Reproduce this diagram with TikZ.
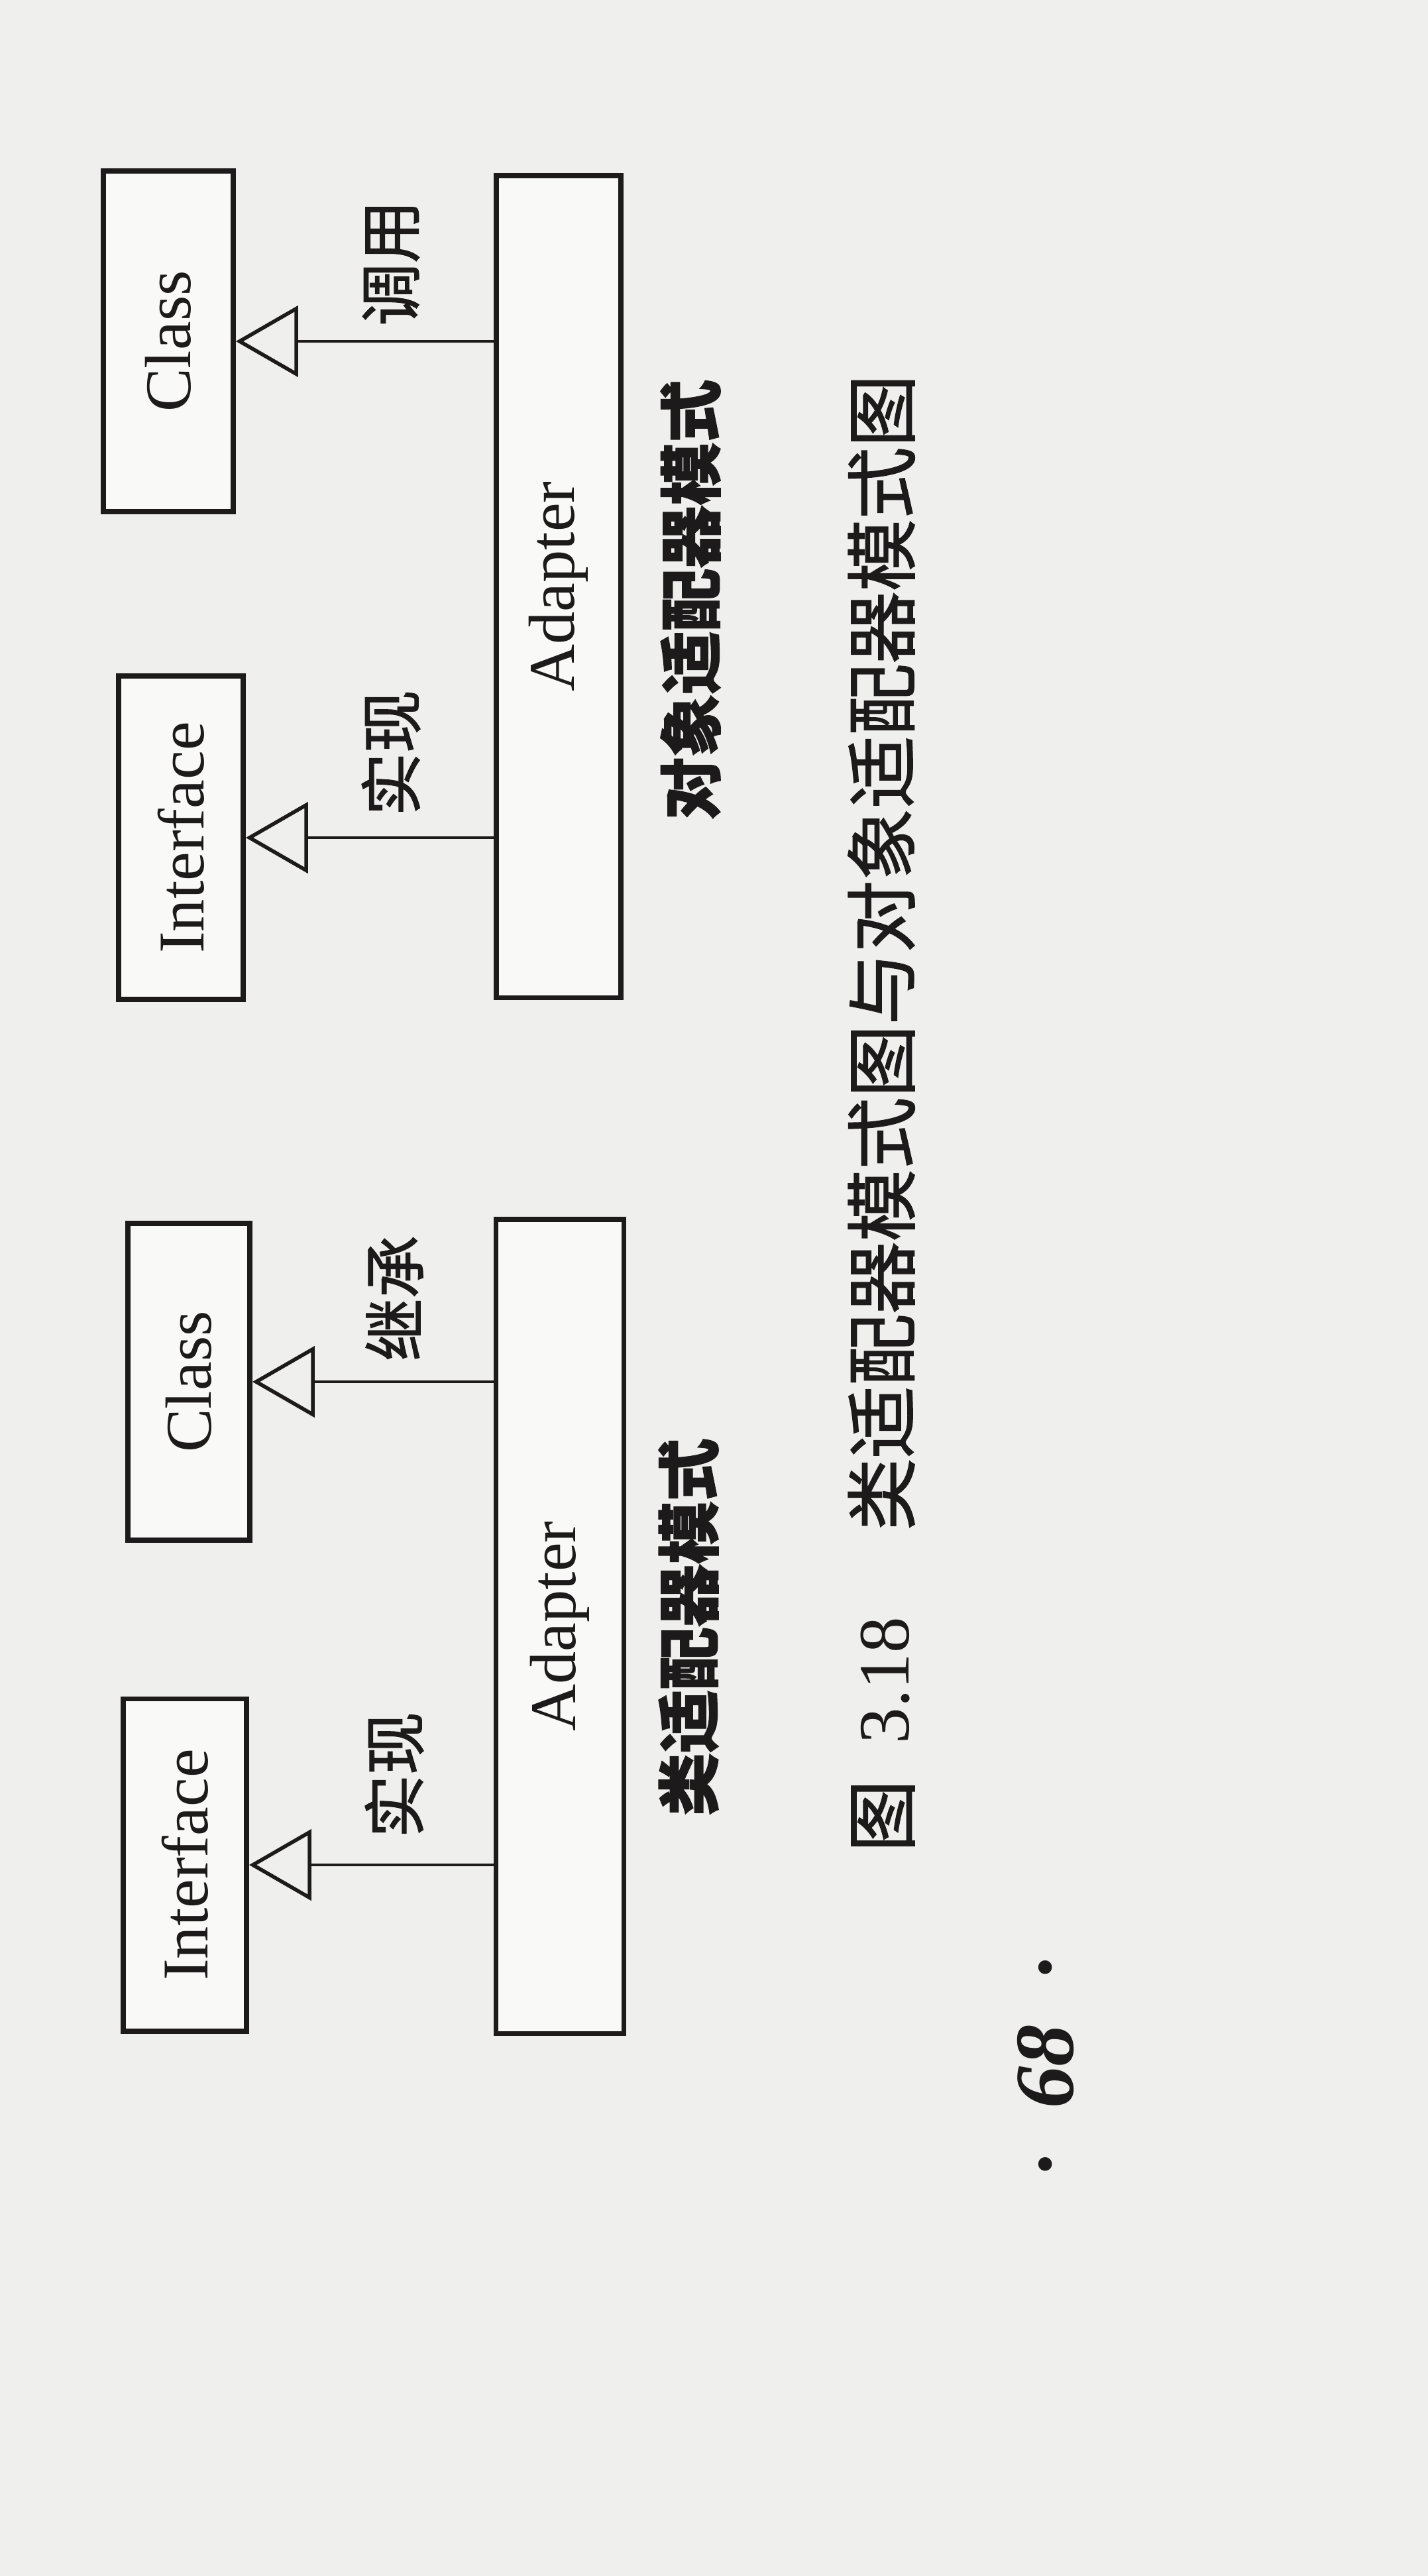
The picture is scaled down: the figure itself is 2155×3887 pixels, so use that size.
\documentclass[tikz,border=0pt]{standalone}
\usepackage{fontspec}
\setmainfont{Liberation Serif}
\newfontfamily\cjk[FakeBold=1.2]{Noto Sans CJK SC}
\usetikzlibrary{arrows.meta}
\definecolor{paper}{RGB}{239,239,237}
\definecolor{ink}{RGB}{28,26,26}

\begin{document}
\begin{tikzpicture}[x=0.01cm, y=-0.01cm,
  box/.style={draw=ink, line width=2.2pt, fill=paper!40!white, inner sep=0pt,
              text=ink, font=\fontsize{28}{30}\selectfont},
  gen/.style={draw=ink, line width=1.1pt,
              -{Triangle[open, length=0.94cm, width=1.07cm, line width=1.6pt]}},
  lbl/.style={text=ink, rotate=90, inner sep=0pt, font=\cjk\fontsize{27}{30}\selectfont},
  subcaption/.style={text=ink, rotate=90, inner sep=0pt, font=\cjk\bfseries\fontsize{27}{30}\selectfont},
  figcaption/.style={text=ink, rotate=90, inner sep=0pt, font=\fontsize{31}{34}\selectfont},
  folio/.style={text=ink, rotate=90, inner sep=0pt, font=\bfseries\itshape\fontsize{36}{40}\selectfont}
]
% page
\fill[paper] (0,0) rectangle (2155,3887);
\useasboundingbox (0,0) rectangle (2155,3887);

% ---- object adapter (upper) ----
\node[box, minimum width=1.96cm, minimum height=5.14cm] (cb) at (254,515)  {\rotatebox{90}{Class}};
\node[box, minimum width=1.88cm, minimum height=4.88cm] (ib) at (273,1264) {\rotatebox{90}{Interface}};
\node[box, minimum width=1.88cm, minimum height=12.40cm] (ab) at (843,885) {\rotatebox{90}{Adapter}};
\draw[gen] (ab.west |- ib.east) -- (ib.east);
\draw[gen] (ab.west |- cb.east) -- (cb.east);
\node[lbl] (lb1) at (590,1136) {实现};
\node[lbl] (lb2) at (590,397)  {调用};
\node[subcaption] (sb) at (1042,905) {对象适配器模式};

% ---- class adapter (lower) ----
\node[box, minimum width=1.84cm, minimum height=4.78cm] (ca) at (285,2085) {\rotatebox{90}{Class}};
\node[box, minimum width=1.86cm, minimum height=5.01cm] (ia) at (279,2814) {\rotatebox{90}{Interface}};
\node[box, minimum width=1.93cm, minimum height=12.28cm] (aa) at (845,2454) {\rotatebox{90}{Adapter}};
\draw[gen] (aa.west |- ia.east) -- (ia.east);
\draw[gen] (aa.west |- ca.east) -- (ca.east);
\node[lbl] (la1) at (595,2678) {实现};
\node[lbl] (la2) at (595,1959) {继承};
\node[subcaption] (sa) at (1039,2455) {类适配器模式};

% ---- figure caption and folio ----
\node[figcaption] (fig) at (1330,1680) {{\cjk 图}\hspace{0.5em}3.18\hspace{1.2em}{\cjk 类适配器模式图与对象适配器模式图}};
\node[folio] (pg) at (1578,3118) {·\hspace{0.55em}68\hspace{0.55em}·};
\end{tikzpicture}
\end{document}
